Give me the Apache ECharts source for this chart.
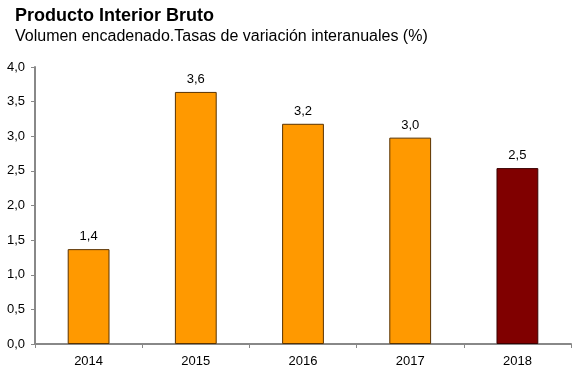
<!DOCTYPE html>
<html>
<head>
<meta charset="utf-8">
<script src="https://cdn.jsdelivr.net/npm/echarts@6/dist/echarts.min.js"></script>
<style>
  html, body { margin: 0; padding: 0; background: #fff; }
  #main { width: 580px; height: 376px; }
</style>
</head>
<body>
<div id="main"></div>
<script>
var years = ['2014', '2015', '2016', '2017', '2018'];
var pibValues = [1.37, 3.64, 3.18, 2.98, 2.54];
var barColors = ['#FF9900', '#FF9900', '#FF9900', '#FF9900', '#800000'];

function fmt(v) {
    return v.toFixed(1).replace('.', ',');
}

var chartDom = document.getElementById('main');
var myChart = echarts.init(chartDom);
var option;

option = {
    animation: false,
    textStyle: { fontFamily: 'Liberation Sans, Arial, sans-serif' },
    title: {
        text: 'Producto Interior Bruto',
        subtext: 'Volumen encadenado.Tasas de variación interanuales (%)',
        left: 10,
        top: 2,
        itemGap: 4,
        textStyle: { fontSize: 18, fontWeight: 'bold', color: '#000' },
        subtextStyle: { fontSize: 16, color: '#000' }
    },
    grid: {
        left: 35,
        right: 9,
        top: 67,
        bottom: 32
    },
    xAxis: {
        type: 'category',
        data: years,
        axisLine: { lineStyle: { color: '#888', width: 2 } },
        axisTick: { show: true, length: 4, lineStyle: { color: '#888' } },
        axisLabel: { color: '#000', fontSize: 13, margin: 11 }
    },
    yAxis: {
        type: 'value',
        min: 0,
        max: 4,
        interval: 0.5,
        splitLine: { show: false },
        axisLine: { show: true, lineStyle: { color: '#888', width: 2 } },
        axisTick: { show: true, length: 4, lineStyle: { color: '#888' } },
        axisLabel: {
            color: '#000',
            fontSize: 13,
            margin: 10,
            formatter: function (v) { return fmt(v); }
        }
    },
    series: [
        {
            type: 'bar',
            barWidth: '39%',
            data: pibValues.map(function (v, i) {
                return {
                    value: v,
                    itemStyle: {
                        color: barColors[i],
                        borderColor: i === 4 ? '#3a0000' : '#5a3300',
                        borderWidth: 1
                    }
                };
            }),
            label: {
                show: true,
                position: 'top',
                distance: 6,
                color: '#000',
                fontSize: 13,
                formatter: function (p) { return fmt(p.value); }
            }
        }
    ]
};

option && myChart.setOption(option);
</script>
</body>
</html>
